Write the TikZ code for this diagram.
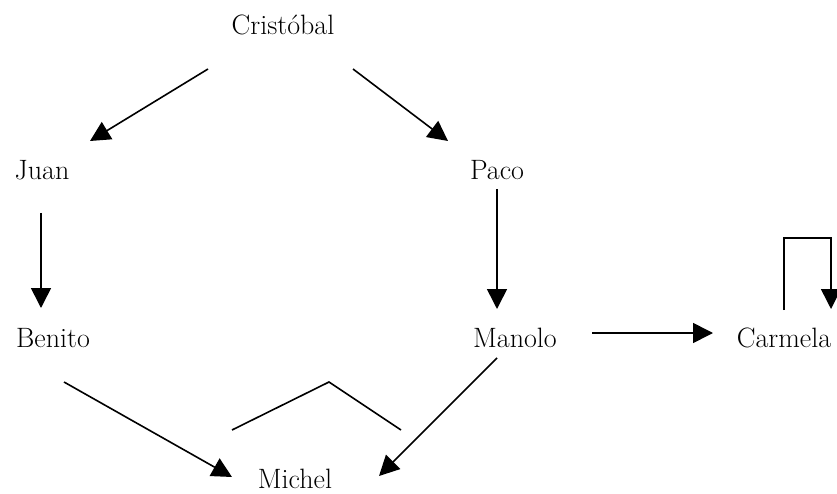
\documentclass[tikz,border=0pt]{standalone}
\usetikzlibrary{arrows.meta, calc}

\begin{document}
\begin{tikzpicture}[
    x=1pt, y=-1pt,
    person/.style={inner sep=0pt, text height=20pt, text depth=0pt, anchor=base,
                   font=\fontsize{28}{34}\selectfont},
    arrow/.style={-{Triangle[length=20pt, width=20pt]}, line width=1.6pt},
    link/.style={line width=1.6pt},
]
    \useasboundingbox (0,0) rectangle (837,494);

    % People (placed at their baselines)
    \node[person] (cristobal) at (283,35)  {Cristóbal};
    \node[person] (juan)      at (42,180)  {Juan};
    \node[person] (paco)      at (497,180) {Paco};
    \node[person] (benito)    at (53,347)  {Benito};
    \node[person] (manolo)    at (515,347) {Manolo};
    \node[person] (carmela)   at (784,347) {Carmela};
    \node[person] (michel)    at (295,488) {Michel};

    % Arrows
    \draw[arrow] ($(cristobal)+(-75,44)$) -- ($(juan)+(48,-29)$);
    \draw[arrow] ($(cristobal)+(70,44)$)  -- ($(paco)+(-49,-29)$);
    \draw[arrow] ($(juan)+(-1,43)$)       -- ($(benito)+(-12,-29)$);
    \draw[arrow] ($(paco)+(0,19)$)        -- ($(manolo)+(-18,-28)$);
    \draw[arrow] ($(benito)+(11,45)$)     -- ($(michel)+(-63,-1)$);
    \draw[arrow] ($(manolo)+(-18,21)$)    -- ($(michel)+(84,-2)$);
    \draw[arrow] ($(manolo)+(77,-4)$)     -- ($(carmela)+(-71,-4)$);

    % Carmela to herself
    \draw[arrow] ($(carmela)+(0,-27)$) -- ++(0,-72) -| ($(carmela)+(47,-28)$);

    % open line above Michel
    \draw[link] ($(michel)+(-63,-48)$) -- ($(michel)+(34,-96)$) -- ($(michel)+(106,-48)$);
\end{tikzpicture}
\end{document}
